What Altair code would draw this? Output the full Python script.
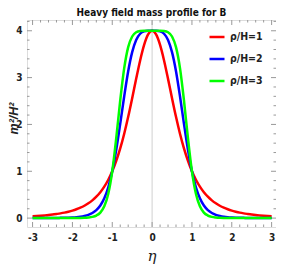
import altair as alt
import pandas as pd

eta = [-3.0, -2.9, -2.8, -2.7, -2.6, -2.5, -2.4, -2.3, -2.2, -2.1,
       -2.0, -1.9, -1.8, -1.7, -1.6, -1.5, -1.4, -1.3, -1.2, -1.1,
       -1.0, -0.9, -0.8, -0.7, -0.6, -0.5, -0.4, -0.3, -0.2, -0.1,
       0.0, 0.1, 0.2, 0.3, 0.4, 0.5, 0.6, 0.7, 0.8, 0.9,
       1.0, 1.1, 1.2, 1.3, 1.4, 1.5, 1.6, 1.7, 1.8, 1.9,
       2.0, 2.1, 2.2, 2.3, 2.4, 2.5, 2.6, 2.7, 2.8, 2.9, 3.0]

red = [0.040, 0.045, 0.051, 0.058, 0.066, 0.076, 0.088, 0.101, 0.117, 0.137,
       0.160, 0.188, 0.222, 0.264, 0.316, 0.379, 0.457, 0.553, 0.672, 0.819,
       1.000, 1.221, 1.487, 1.802, 2.163, 2.560, 2.973, 3.367, 3.698, 3.921,
       4.000, 3.921, 3.698, 3.367, 2.973, 2.560, 2.163, 1.802, 1.487, 1.221,
       1.000, 0.819, 0.672, 0.553, 0.457, 0.379, 0.316, 0.264, 0.222, 0.188,
       0.160, 0.137, 0.117, 0.101, 0.088, 0.076, 0.066, 0.058, 0.051, 0.045, 0.040]

blue = [0.001, 0.001, 0.001, 0.001, 0.002, 0.002, 0.003, 0.005, 0.007, 0.010,
        0.014, 0.020, 0.030, 0.046, 0.070, 0.109, 0.171, 0.269, 0.423, 0.659,
        1.000, 1.458, 2.013, 2.601, 3.135, 3.543, 3.803, 3.936, 3.987, 3.999,
        4.000, 3.999, 3.987, 3.936, 3.803, 3.543, 3.135, 2.601, 2.013, 1.458,
        1.000, 0.659, 0.423, 0.269, 0.171, 0.109, 0.070, 0.046, 0.030, 0.020,
        0.014, 0.010, 0.007, 0.005, 0.003, 0.002, 0.002, 0.001, 0.001, 0.001, 0.001]

green = [0.000, 0.000, 0.000, 0.000, 0.000, 0.000, 0.000, 0.000, 0.000, 0.000,
         0.001, 0.002, 0.003, 0.006, 0.013, 0.026, 0.055, 0.118, 0.252, 0.521,
         1.000, 1.706, 2.511, 3.202, 3.651, 3.878, 3.967, 3.994, 4.000, 4.000,
         4.000, 4.000, 4.000, 3.994, 3.967, 3.878, 3.651, 3.202, 2.511, 1.706,
         1.000, 0.521, 0.252, 0.118, 0.055, 0.026, 0.013, 0.006, 0.003, 0.002,
         0.001, 0.000, 0.000, 0.000, 0.000, 0.000, 0.000, 0.000, 0.000, 0.000, 0.000]

series_names = ["ρ/H=1", "ρ/H=2", "ρ/H=3"]
series_colors = ["#ff0000", "#0000ff", "#00ff00"]

x_major = [-3, -2, -1, 0, 1, 2, 3]
x_minor = [-2.8, -2.6, -2.4, -2.2, -1.8, -1.6, -1.4, -1.2, -0.8, -0.6, -0.4, -0.2,
           0.2, 0.4, 0.6, 0.8, 1.2, 1.4, 1.6, 1.8, 2.2, 2.4, 2.6, 2.8]
y_major = [0, 1, 2, 3, 4]
y_minor = [0.2, 0.4, 0.6, 0.8, 1.2, 1.4, 1.6, 1.8, 2.2, 2.4, 2.6, 2.8,
           3.2, 3.4, 3.6, 3.8, 4.2]

rows = []
for name, vals in zip(series_names, [red, blue, green]):
    for e, v in zip(eta, vals):
        rows.append({"eta": e, "m": v, "series": name})
df = pd.DataFrame(rows)

W, H = 249, 207
FONT = "DejaVu Sans Condensed, Liberation Sans Narrow, Liberation Sans, sans-serif"
xs = alt.Scale(domain=[-3.14, 3.11], nice=False, zero=False)
ys = alt.Scale(domain=[-0.19, 4.23], nice=False, zero=False)

lines = alt.Chart(df).mark_line(strokeWidth=2.5, interpolate="monotone", clip=True).encode(
    x=alt.X("eta:Q", scale=xs,
            axis=alt.Axis(values=x_major, labelExpr="'' + datum.value", ticks=False,
                          domain=False, grid=False, labelFont=FONT, labelFontSize=10,
                          labelFontWeight="bold", labelColor="#222", labelPadding=5,
                          title="η", titleFont="DejaVu Serif", titleFontSize=15,
                          titleFontStyle="italic", titleFontWeight="normal",
                          titleY=28, titleBaseline="middle", titleColor="#222")),
    y=alt.Y("m:Q", scale=ys,
            axis=alt.Axis(values=y_major, ticks=False, domain=False, grid=False,
                          labelFont=FONT, labelFontSize=10, labelFontWeight="bold",
                          labelColor="#222", labelPadding=5,
                          title="m²/H²", titleFont="Liberation Sans", titleFontSize=12.5,
                          titleFontStyle="italic", titleFontWeight="bold",
                          titleX=-10, titleY=98, titleBaseline="alphabetic",
                          titleColor="#222")),
    color=alt.Color("series:N",
                    scale=alt.Scale(domain=series_names, range=series_colors),
                    legend=alt.Legend(orient="none", legendX=181, legendY=8, title=None,
                                      symbolType="stroke", symbolSize=225,
                                      symbolStrokeWidth=2.5, labelFont=FONT,
                                      labelFontSize=10.5, labelFontWeight="bold",
                                      labelColor="#222", labelOffset=4, rowPadding=7,
                                      padding=0)),
)

zero_line = alt.Chart(pd.DataFrame({"v": [0]})).mark_rule(color="#d0d0d0", strokeWidth=1).encode(
    x=alt.X("v:Q", scale=xs)
)

tick_col = "#999999"
def xticks(vals, length):
    d = pd.DataFrame({"v": vals})
    bottom = alt.Chart(d).mark_rule(color=tick_col, strokeWidth=1).encode(
        x=alt.X("v:Q", scale=xs), y=alt.value(H), y2=alt.value(H - length))
    top = alt.Chart(d).mark_rule(color=tick_col, strokeWidth=1).encode(
        x=alt.X("v:Q", scale=xs), y=alt.value(0), y2=alt.value(length))
    return [bottom, top]

def yticks(vals, length):
    d = pd.DataFrame({"v": vals})
    left = alt.Chart(d).mark_rule(color=tick_col, strokeWidth=1).encode(
        y=alt.Y("v:Q", scale=ys), x=alt.value(0), x2=alt.value(length))
    right = alt.Chart(d).mark_rule(color=tick_col, strokeWidth=1).encode(
        y=alt.Y("v:Q", scale=ys), x=alt.value(W), x2=alt.value(W - length))
    return [left, right]

layers = [zero_line] + xticks(x_major, 5) + xticks(x_minor, 2.5) + \
         yticks(y_major, 5) + yticks(y_minor, 2.5) + [lines]

chart = alt.layer(*layers).properties(
    width=W, height=H,
    title=alt.TitleParams("Heavy field mass profile for B", font=FONT, fontSize=10,
                          fontWeight="bold", color="#111", anchor="middle", offset=2),
    autosize=alt.AutoSizeParams(type="none"),
    padding={"left": 19, "top": 12, "right": 0, "bottom": 38},
).configure_view(stroke="#999999", strokeWidth=1).configure(background="white")

chart.save("out.html", embed_options={"renderer": "svg", "actions": False})
